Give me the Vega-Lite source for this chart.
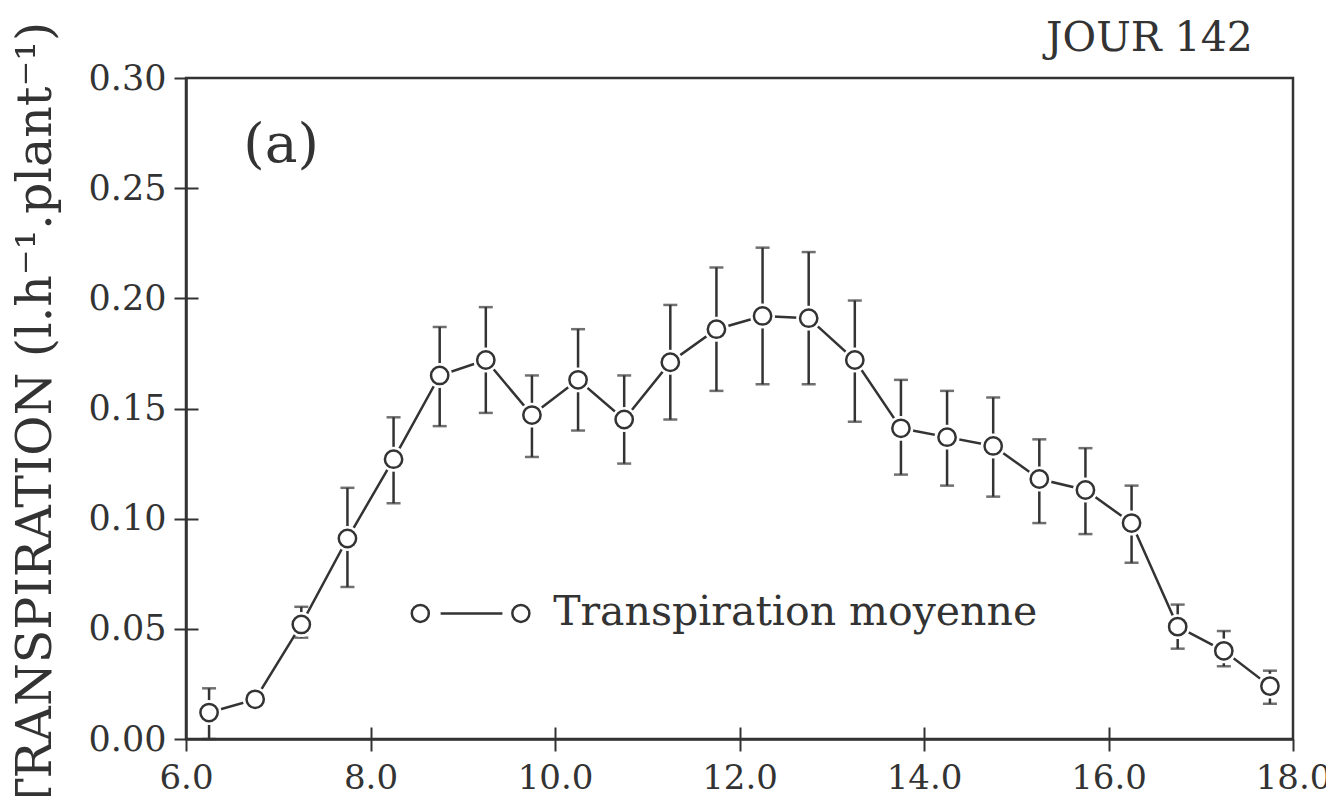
{
  "$schema": "https://vega.github.io/schema/vega-lite/v6.json",
  "autosize": {"type": "none"},
  "padding": {"left": 186, "top": 78, "right": 33, "bottom": 57},
  "width": 1107,
  "height": 661,
  "background": "white",
  "title": {"text": "JOUR 142", "anchor": "end", "font": "DejaVu Serif", "fontSize": 41, "fontWeight": "normal", "color": "#333333", "offset": -29, "dx": -78, "dy": 10},
  "config": {
    "view": {"stroke": "#333333", "strokeWidth": 2.5},
    "font": "DejaVu Serif"
  },
  "datasets": {
    "obs": [
      {"h": 6.25, "t": 0.012, "lo": 0.0, "hi": 0.023},
      {"h": 6.75, "t": 0.018, "lo": 0.018, "hi": 0.018},
      {"h": 7.25, "t": 0.052, "lo": 0.046, "hi": 0.060},
      {"h": 7.75, "t": 0.091, "lo": 0.069, "hi": 0.114},
      {"h": 8.25, "t": 0.127, "lo": 0.107, "hi": 0.146},
      {"h": 8.75, "t": 0.165, "lo": 0.142, "hi": 0.187},
      {"h": 9.25, "t": 0.172, "lo": 0.148, "hi": 0.196},
      {"h": 9.75, "t": 0.147, "lo": 0.128, "hi": 0.165},
      {"h": 10.25, "t": 0.163, "lo": 0.140, "hi": 0.186},
      {"h": 10.75, "t": 0.145, "lo": 0.125, "hi": 0.165},
      {"h": 11.25, "t": 0.171, "lo": 0.145, "hi": 0.197},
      {"h": 11.75, "t": 0.186, "lo": 0.158, "hi": 0.214},
      {"h": 12.25, "t": 0.192, "lo": 0.161, "hi": 0.223},
      {"h": 12.75, "t": 0.191, "lo": 0.161, "hi": 0.221},
      {"h": 13.25, "t": 0.172, "lo": 0.144, "hi": 0.199},
      {"h": 13.75, "t": 0.141, "lo": 0.120, "hi": 0.163},
      {"h": 14.25, "t": 0.137, "lo": 0.115, "hi": 0.158},
      {"h": 14.75, "t": 0.133, "lo": 0.110, "hi": 0.155},
      {"h": 15.25, "t": 0.118, "lo": 0.098, "hi": 0.136},
      {"h": 15.75, "t": 0.113, "lo": 0.093, "hi": 0.132},
      {"h": 16.25, "t": 0.098, "lo": 0.080, "hi": 0.115},
      {"h": 16.75, "t": 0.051, "lo": 0.041, "hi": 0.061},
      {"h": 17.25, "t": 0.040, "lo": 0.033, "hi": 0.049},
      {"h": 17.75, "t": 0.024, "lo": 0.016, "hi": 0.031}
    ],
    "legendpts": [
      {"h": 8.54, "t": 0.057},
      {"h": 9.63, "t": 0.057}
    ],
    "legendline": [
      {"h": 8.76, "t": 0.057},
      {"h": 9.43, "t": 0.057}
    ],
    "labels": [
      {"h": 6.62, "t": 0.2696, "txt": "(a)", "kind": "panel"},
      {"h": 9.98, "t": 0.057, "txt": "Transpiration moyenne", "kind": "legend"}
    ]
  },
  "resolve": {"axis": {"x": "independent", "y": "independent"}},
  "layer": [
    {
      "encoding": {
        "x": {
          "field": "h", "type": "quantitative",
          "scale": {"domain": [6, 18], "nice": false, "zero": false},
          "axis": {
            "orient": "bottom",
            "title": null, "values": [6, 8, 10, 12, 14, 16, 18], "format": ".1f",
            "domainColor": "#333333", "domainWidth": 2.5,
            "tickColor": "#333333", "tickWidth": 2, "tickSize": 12,
            "grid": false,
            "labelFont": "DejaVu Serif", "labelFontSize": 34, "labelColor": "#333333", "labelPadding": 10,
            "labelFlush": false
          }
        },
        "y": {
          "field": "t", "type": "quantitative",
          "scale": {"domain": [0, 0.3], "nice": false, "zero": false},
          "axis": {
            "orient": "left",
            "title": "TRANSPIRATION (l.h⁻¹.plant⁻¹)",
            "titleFont": "DejaVu Serif", "titleFontSize": 49, "titleFontWeight": "normal", "titleColor": "#333333",
            "titleX": -136, "titleY": 338, "titleAngle": 270, "titleAlign": "center", "titleBaseline": "alphabetic",
            "values": [0, 0.05, 0.1, 0.15, 0.2, 0.25, 0.3], "format": ".2f",
            "domainColor": "#333333", "domainWidth": 2.5,
            "tickColor": "#333333", "tickWidth": 2, "tickSize": 12,
            "grid": false,
            "labelFont": "DejaVu Serif", "labelFontSize": 35, "labelColor": "#333333", "labelPadding": 8,
            "labelFlush": false
          }
        }
      },
      "layer": [
        {
          "data": {"name": "obs"},
          "mark": {"type": "line", "color": "#333333", "strokeWidth": 2.5}
        },
        {
          "data": {"name": "obs"},
          "mark": {"type": "errorbar", "color": "#333333", "thickness": 2.5, "ticks": {"size": 14, "thickness": 2.5, "color": "#333333"}},
          "encoding": {
            "y": {"field": "lo", "type": "quantitative"},
            "y2": {"field": "hi"}
          }
        },
        {
          "data": {"name": "obs"},
          "mark": {"type": "point", "shape": "circle", "filled": true, "color": "white", "opacity": 1, "size": 620}
        },
        {
          "data": {"name": "obs"},
          "mark": {"type": "point", "shape": "circle", "filled": false, "fill": "white", "stroke": "#333333", "strokeWidth": 2.5, "opacity": 1, "size": 300}
        },
        {
          "data": {"name": "legendline"},
          "mark": {"type": "line", "color": "#333333", "strokeWidth": 2.5}
        },
        {
          "data": {"name": "legendpts"},
          "mark": {"type": "point", "shape": "circle", "filled": false, "fill": "white", "stroke": "#333333", "strokeWidth": 2.5, "opacity": 1, "size": 290}
        },
        {
          "data": {"name": "labels"},
          "transform": [{"filter": "datum.kind === 'legend'"}],
          "mark": {"type": "text", "align": "left", "baseline": "middle", "font": "DejaVu Serif", "fontSize": 41, "color": "#333333"},
          "encoding": {"text": {"field": "txt"}}
        },
        {
          "data": {"name": "labels"},
          "transform": [{"filter": "datum.kind === 'panel'"}],
          "mark": {"type": "text", "align": "left", "baseline": "middle", "font": "DejaVu Serif", "fontSize": 55, "color": "#333333"},
          "encoding": {"text": {"field": "txt"}}
        }
      ]
    },
    {
      "data": {"name": "obs"},
      "mark": {"type": "point", "opacity": 0},
      "encoding": {
        "x": {
          "field": "h", "type": "quantitative",
          "scale": {"domain": [6, 18], "nice": false, "zero": false},
          "axis": {
            "orient": "bottom", "title": null, "values": [8, 10, 12, 14, 16],
            "domain": false, "labels": false, "grid": false,
            "tickColor": "#333333", "tickWidth": 2, "tickSize": -12
          }
        },
        "y": {
          "field": "t", "type": "quantitative",
          "scale": {"domain": [0, 0.3], "nice": false, "zero": false},
          "axis": {
            "orient": "left", "title": null, "values": [0.05, 0.1, 0.15, 0.2, 0.25],
            "domain": false, "labels": false, "grid": false,
            "tickColor": "#333333", "tickWidth": 2, "tickSize": -12
          }
        }
      }
    }
  ]
}
